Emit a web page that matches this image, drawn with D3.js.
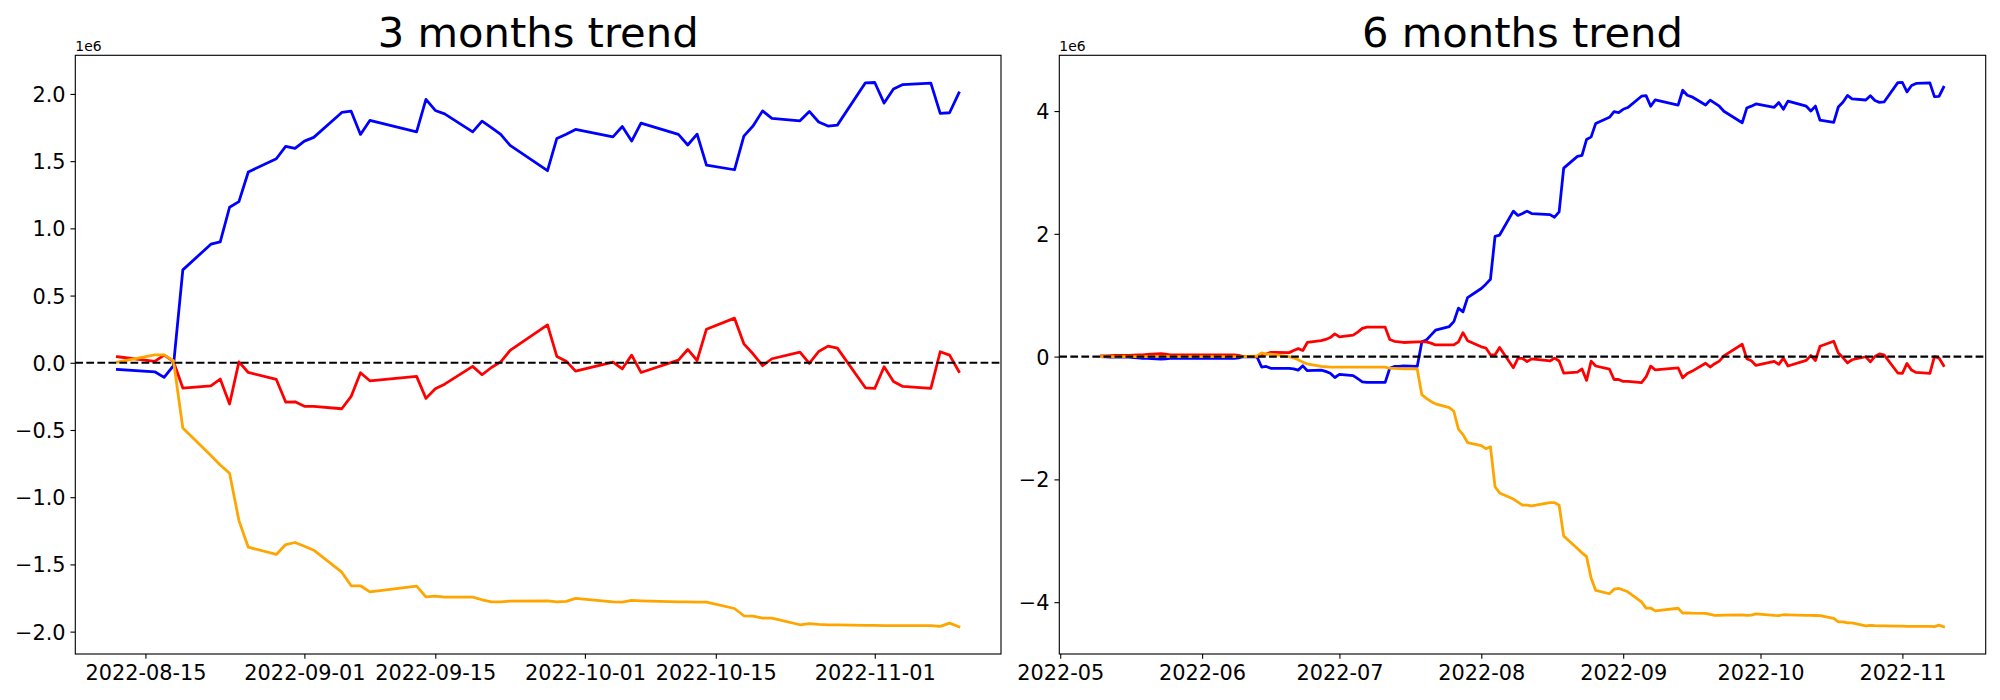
<!DOCTYPE html>
<html>
<head>
<meta charset="utf-8">
<script src="https://cdn.jsdelivr.net/npm/d3@7"></script>
<style>
  html, body { margin: 0; padding: 0; background: #ffffff; }
  svg { display: block; font-family: "DejaVu Sans", sans-serif; }
</style>
</head>
<body>
<svg id="chart" width="2000" height="700"></svg>
<script>
// ---------------- DATA (values in units of 1e6) ----------------
const dates3m = ["2022-08-12","2022-08-16","2022-08-17","2022-08-18","2022-08-19","2022-08-22","2022-08-23","2022-08-24","2022-08-25","2022-08-26","2022-08-29","2022-08-30","2022-08-31",
  "2022-09-01","2022-09-02","2022-09-05","2022-09-06","2022-09-07","2022-09-08","2022-09-13","2022-09-14","2022-09-15","2022-09-16","2022-09-19","2022-09-20","2022-09-21","2022-09-22","2022-09-23","2022-09-27","2022-09-28","2022-09-29","2022-09-30",
  "2022-10-04","2022-10-05","2022-10-06","2022-10-07","2022-10-11","2022-10-12","2022-10-13","2022-10-14","2022-10-17","2022-10-18","2022-10-19","2022-10-20","2022-10-21","2022-10-24","2022-10-25","2022-10-26","2022-10-27","2022-10-28","2022-10-31",
  "2022-11-01","2022-11-02","2022-11-03","2022-11-04","2022-11-07","2022-11-08","2022-11-09","2022-11-10"];

const blue3m = [-0.05,-0.067,-0.109,-0.022,0.691,0.882,0.899,1.157,1.199,1.419,1.518,1.61,1.595,
  1.649,1.677,1.862,1.872,1.699,1.803,1.718,1.959,1.877,1.852,1.718,1.798,1.75,1.699,1.617,1.429,1.669,1.70,1.736,
  1.681,1.758,1.649,1.783,1.699,1.62,1.701,1.471,1.436,1.686,1.763,1.874,1.818,1.80,1.87,1.791,1.761,1.768,2.083,
  2.085,1.932,2.036,2.07,2.08,1.855,1.86,2.008];
const red3m = [0.045,0.01,0.057,0.01,-0.188,-0.171,-0.121,-0.307,0.007,-0.072,-0.124,-0.292,-0.29,
  -0.324,-0.324,-0.342,-0.25,-0.074,-0.134,-0.101,-0.265,-0.193,-0.159,-0.027,-0.089,-0.035,0.007,0.092,0.282,0.047,0.012,-0.062,
  0.005,-0.045,0.057,-0.072,0.02,0.099,0.017,0.25,0.332,0.141,0.065,-0.022,0.03,0.079,-0.005,0.084,0.124,0.109,-0.186,
  -0.191,-0.03,-0.139,-0.176,-0.191,0.082,0.057,-0.065];
const orange3m = [0.005,0.059,0.059,0.015,-0.485,-0.69,-0.76,-0.822,-1.174,-1.372,-1.426,-1.352,-1.337,
  -1.365,-1.394,-1.558,-1.659,-1.659,-1.704,-1.662,-1.741,-1.736,-1.743,-1.744,-1.763,-1.778,-1.778,-1.773,-1.771,-1.778,-1.775,-1.753,
  -1.778,-1.781,-1.768,-1.771,-1.778,-1.779,-1.78,-1.781,-1.828,-1.882,-1.885,-1.899,-1.899,-1.949,-1.941,-1.946,-1.949,-1.949,-1.954,
  -1.954,-1.956,-1.956,-1.956,-1.956,-1.961,-1.937,-1.964];

const datesEarly6m = ["2022-05-10","2022-05-11","2022-05-12","2022-05-13","2022-05-16","2022-05-17","2022-05-18","2022-05-19","2022-05-20","2022-05-23","2022-05-24","2022-05-25","2022-05-26","2022-05-27","2022-05-30","2022-05-31",
  "2022-06-02","2022-06-03","2022-06-07","2022-06-08","2022-06-09","2022-06-10","2022-06-13","2022-06-14","2022-06-15","2022-06-16","2022-06-17","2022-06-20","2022-06-21","2022-06-22","2022-06-23","2022-06-24","2022-06-27","2022-06-28","2022-06-29","2022-06-30",
  "2022-07-01","2022-07-04","2022-07-05","2022-07-06","2022-07-07","2022-07-08","2022-07-11","2022-07-12","2022-07-13","2022-07-14","2022-07-15","2022-07-18","2022-07-19","2022-07-20","2022-07-21","2022-07-22","2022-07-25","2022-07-26","2022-07-27","2022-07-28","2022-07-29",
  "2022-08-01","2022-08-02","2022-08-03","2022-08-04","2022-08-05","2022-08-08","2022-08-09","2022-08-10","2022-08-11"];
const dates6m = datesEarly6m.concat(dates3m);

const blue6m = [0.0,-0.005,-0.01,-0.01,-0.01,-0.015,-0.02,-0.03,-0.03,-0.04,-0.035,-0.03,-0.03,-0.03,-0.03,-0.03,
  -0.03,-0.03,-0.03,-0.03,-0.02,0.0,-0.005,-0.17,-0.16,-0.19,-0.19,-0.19,-0.2,-0.22,-0.15,-0.23,-0.22,-0.24,-0.27,-0.34,
  -0.29,-0.31,-0.36,-0.41,-0.42,-0.42,-0.42,-0.19,-0.16,-0.16,-0.15,-0.16,0.24,0.27,0.35,0.43,0.49,0.57,0.79,0.73,0.96,
  1.11,1.18,1.26,1.96,1.98,2.37,2.30,2.33,2.37,
  2.33,2.313,2.271,2.358,3.071,3.262,3.279,3.537,3.579,3.799,3.898,3.99,3.975,
  4.029,4.057,4.242,4.252,4.079,4.183,4.098,4.339,4.257,4.232,4.098,4.178,4.13,4.079,3.997,3.809,4.049,4.08,4.116,
  4.061,4.138,4.029,4.163,4.079,4.0,4.081,3.851,3.816,4.066,4.143,4.254,4.198,4.18,4.25,4.171,4.141,4.148,4.463,
  4.465,4.312,4.416,4.45,4.46,4.235,4.24,4.388];
const red6m = [0.01,0.01,0.015,0.02,0.02,0.025,0.03,0.03,0.035,0.05,0.04,0.03,0.03,0.03,0.03,0.03,
  0.03,0.03,0.03,0.03,0.02,0.0,0.0,0.03,0.04,0.07,0.07,0.065,0.1,0.13,0.1,0.23,0.26,0.28,0.31,0.37,
  0.32,0.35,0.40,0.46,0.48,0.48,0.48,0.28,0.25,0.24,0.23,0.24,0.24,0.24,0.22,0.19,0.19,0.19,0.24,0.39,0.26,
  0.16,0.14,0.03,0.03,0.15,-0.18,-0.03,-0.03,-0.08,
  -0.036,-0.071,-0.024,-0.071,-0.269,-0.252,-0.202,-0.388,-0.074,-0.153,-0.205,-0.373,-0.371,
  -0.405,-0.405,-0.423,-0.331,-0.155,-0.215,-0.182,-0.346,-0.274,-0.24,-0.108,-0.17,-0.116,-0.074,0.011,0.201,-0.034,-0.069,-0.143,
  -0.076,-0.126,-0.024,-0.153,-0.061,0.018,-0.064,0.169,0.251,0.06,-0.016,-0.103,-0.051,-0.002,-0.086,0.003,0.043,0.028,-0.267,
  -0.272,-0.111,-0.22,-0.257,-0.272,0.001,-0.024,-0.146];
const orange6m = [0.0,0.0,0.0,0.0,0.0,0.0,0.0,0.0,0.0,0.005,0.005,0.0,0.0,0.0,0.0,0.0,
  0.0,0.0,0.0,0.0,0.0,0.0,0.01,0.06,0.04,0.04,0.03,0.0,-0.02,-0.05,-0.09,-0.12,-0.16,-0.165,-0.17,-0.17,
  -0.17,-0.17,-0.17,-0.17,-0.17,-0.17,-0.17,-0.19,-0.19,-0.195,-0.2,-0.2,-0.62,-0.68,-0.73,-0.77,-0.83,-0.89,-1.18,-1.27,-1.40,
  -1.45,-1.50,-1.47,-2.12,-2.22,-2.32,-2.37,-2.42,-2.42,
  -2.432,-2.378,-2.378,-2.422,-2.922,-3.127,-3.197,-3.259,-3.611,-3.809,-3.863,-3.789,-3.774,
  -3.802,-3.831,-3.995,-4.096,-4.096,-4.141,-4.099,-4.178,-4.173,-4.18,-4.181,-4.2,-4.215,-4.215,-4.21,-4.208,-4.215,-4.212,-4.19,
  -4.215,-4.218,-4.205,-4.208,-4.215,-4.216,-4.217,-4.218,-4.265,-4.319,-4.322,-4.336,-4.336,-4.386,-4.378,-4.383,-4.386,-4.386,-4.391,
  -4.391,-4.393,-4.393,-4.393,-4.393,-4.398,-4.374,-4.401];

const seriesColors = ["blue", "red", "orange"];
const titles = ["3 months trend", "6 months trend"];
const xTicks3m = ["2022-08-15","2022-09-01","2022-09-15","2022-10-01","2022-10-15","2022-11-01"];
const xTicks6m = ["2022-05-01","2022-06-01","2022-07-01","2022-08-01","2022-09-01","2022-10-01","2022-11-01"];
const yTicks3m = [-2.0,-1.5,-1.0,-0.5,0.0,0.5,1.0,1.5,2.0];
const yTicks6m = [-4,-2,0,2,4];
const offsetLabel = "1e6";

// ---------------- DRAWING ----------------
(function () {
const parse = d3.timeParse("%Y-%m-%d");
const svg = d3.select("#chart");
svg.append("rect").attr("width", 2000).attr("height", 700).attr("fill", "#fff");

const panels = [
  { x0: 75.3, x1: 1001, dates: dates3m, series: [blue3m, red3m, orange3m], xTicks: xTicks3m,
    xFmt: d3.timeFormat("%Y-%m-%d"), yTicks: yTicks3m, yFmt: d3.format(".1f"), title: titles[0] },
  { x0: 1059.3, x1: 1985.7, dates: dates6m, series: [blue6m, red6m, orange6m], xTicks: xTicks6m,
    xFmt: d3.timeFormat("%Y-%m"), yTicks: yTicks6m, yFmt: d3.format("d"), title: titles[1] }
];
const plotTop = 55.3, plotBottom = 654;
const tickLen = 4.86, tickPad = 4.86;
const tickFont = 20.83;

panels.forEach(p => {
  const dts = p.dates.map(parse);
  const [tmin, tmax] = d3.extent(dts);
  const span = tmax - tmin;
  const x = d3.scaleTime()
    .domain([new Date(+tmin - 0.05 * span), new Date(+tmax + 0.05 * span)])
    .range([p.x0, p.x1]);
  const allV = p.series.flat();
  const vmin = d3.min(allV), vmax = d3.max(allV);
  const vr = vmax - vmin;
  const y = d3.scaleLinear().domain([vmin - 0.05 * vr, vmax + 0.05 * vr]).range([plotBottom, plotTop]);

  const g = svg.append("g");

  p.series.forEach((vals, i) => {
    const line = d3.line().x((d, j) => x(dts[j])).y(d => y(d));
    g.append("path").datum(vals)
      .attr("d", line)
      .attr("fill", "none")
      .attr("stroke", seriesColors[i])
      .attr("stroke-width", 2.78)
      .attr("stroke-linejoin", "round")
      .attr("stroke-linecap", "square");
  });

  g.append("line")
    .attr("x1", p.x0).attr("x2", p.x1)
    .attr("y1", y(0)).attr("y2", y(0))
    .attr("stroke", "black").attr("stroke-width", 2.08)
    .attr("stroke-dasharray", "7.71 3.33");

  const xAxis = d3.axisBottom(x)
    .tickValues(p.xTicks.map(parse))
    .tickFormat(p.xFmt)
    .tickSizeInner(tickLen).tickSizeOuter(0).tickPadding(tickPad);
  const gx = g.append("g").attr("transform", `translate(0,${plotBottom})`).call(xAxis);
  gx.select(".domain").remove();
  gx.selectAll(".tick line").attr("stroke", "black").attr("stroke-width", 1.11);
  gx.selectAll(".tick text").attr("fill", "black").attr("dy", null).attr("y", 26)
    .style("font-size", tickFont + "px").style("font-family", "DejaVu Sans");

  const yAxis = d3.axisLeft(y)
    .tickValues(p.yTicks)
    .tickFormat(p.yFmt)
    .tickSizeInner(tickLen).tickSizeOuter(0).tickPadding(tickPad);
  const gy = g.append("g").attr("transform", `translate(${p.x0},0)`).call(yAxis);
  gy.select(".domain").remove();
  gy.selectAll(".tick line").attr("stroke", "black").attr("stroke-width", 1.11);
  gy.selectAll(".tick text").attr("fill", "black").attr("dy", "0.36em")
    .style("font-size", tickFont + "px").style("font-family", "DejaVu Sans");

  g.append("rect")
    .attr("x", p.x0).attr("y", plotTop)
    .attr("width", p.x1 - p.x0).attr("height", plotBottom - plotTop)
    .attr("fill", "none").attr("stroke", "black").attr("stroke-width", 1.11);

  g.append("text").attr("x", p.x0).attr("y", 51)
    .attr("font-size", "13.9px").attr("fill", "black")
    .text(offsetLabel);

  g.append("text").attr("x", (p.x0 + p.x1) / 2).attr("y", 47)
    .attr("text-anchor", "middle").attr("font-size", "41.67px").attr("fill", "black")
    .text(p.title);
});
})();
</script>
</body>
</html>
